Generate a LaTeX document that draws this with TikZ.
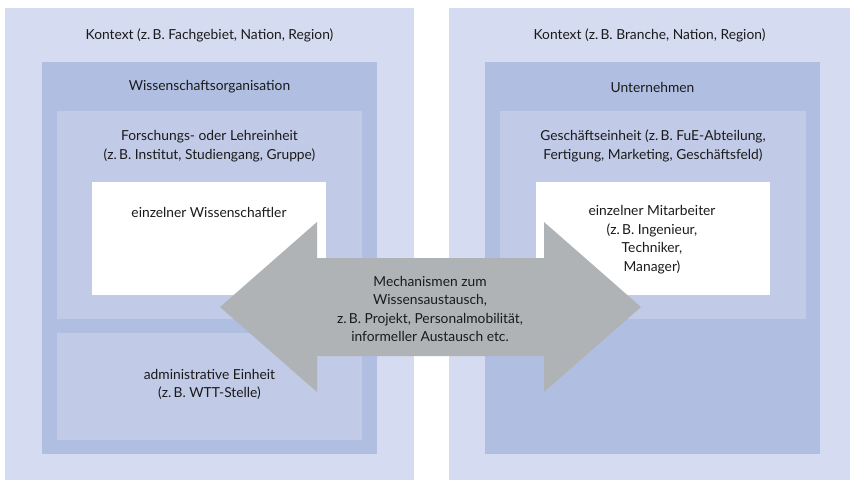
\documentclass[tikz,border=0pt]{standalone}
\usepackage{fontspec}
\setmainfont{Lato}
\definecolor{ctxc}{HTML}{D5DBF0}
\definecolor{orgc}{HTML}{B0BEE1}
\definecolor{unitc}{HTML}{C1CBE7}
\definecolor{arrc}{HTML}{B0B3B5}
\definecolor{txtc}{HTML}{1A1A1A}
\begin{document}
\begin{tikzpicture}[x=1pt,y=-1pt,
  lbl/.style={text=txtc,font=\fontsize{13.8}{18.6}\selectfont,align=center,inner sep=0pt}]
\useasboundingbox (0,0) rectangle (850,480);
\fill[white] (0,0) rectangle (850,480);
% left side
\fill[ctxc] (5,8) rectangle (414,480);
\fill[orgc] (42,62) rectangle (377,454);
\fill[unitc] (57,111) rectangle (362,319);
\fill[white] (92,182) rectangle (326,295);
\fill[unitc] (57,333) rectangle (362,440);
% right side
\fill[ctxc] (449,8) rectangle (850,480);
\fill[orgc] (485,62) rectangle (820,454);
\fill[unitc] (500,111) rectangle (806,319);
\fill[white] (536,182) rectangle (770,295);
% arrow
\fill[arrc] (220,307) -- (317,222) -- (317,258) -- (544,258) -- (544,222)
  -- (641,307) -- (544,392) -- (544,356) -- (317,356) -- (317,392) -- cycle;
% texts
\node[lbl] (ctxL) at (209.5,35) {Kontext (z.\,B. Fachgebiet, Nation, Region)};
\node[lbl] (orgL) at (209.5,87) {Wissenschaftsorganisation};
\node[lbl] (unitL) at (209.5,146) {Forschungs- oder Lehreinheit\\(z.\,B. Institut, Studiengang, Gruppe)};
\node[lbl] (indL) at (209,212) {einzelner Wissenschaftler};
\node[lbl] (admL) at (209.5,384.5) {administrative Einheit\\(z.\,B. WTT-Stelle)};
\node[lbl] (ctxR) at (649.5,35) {Kontext (z.\,B. Branche, Nation, Region)};
\node[lbl] (orgR) at (652.5,87) {Unternehmen};
\node[lbl] (unitR) at (653,146) {Geschäftseinheit (z.\,B. FuE-Abteilung,\\Fertigung, Marketing, Geschäftsfeld)};
\node[lbl] (indR) at (652,239.5) {einzelner Mitarbeiter\\(z.\,B. Ingenieur,\\Techniker,\\Manager)};
\node[lbl] (mech) at (430,309) {Mechanismen zum\\Wissensaustausch,\\z.\,B. Projekt, Personalmobilität,\\informeller Austausch etc.};
\end{tikzpicture}
\end{document}
